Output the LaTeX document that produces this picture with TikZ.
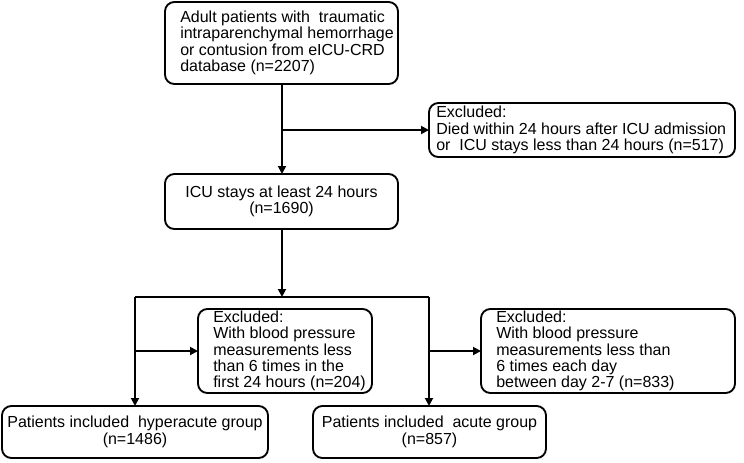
\documentclass[tikz,border=0pt]{standalone}
\usepackage{fontspec}
\setmainfont{Liberation Sans}
\usetikzlibrary{arrows.meta}
\begin{document}
\begin{tikzpicture}[x=0.75pt,y=-0.75pt,
 box/.style={draw,line width=1.4pt,rounded corners=7pt,inner sep=0pt},
 txt/.style={font=\fontsize{12}{12.3}\selectfont,inner sep=0pt},
 arr/.style={line width=1.4pt,-{Triangle[length=6pt,width=6pt]}},
 ln/.style={line width=1.4pt}]
\useasboundingbox (0,0) rectangle (744,462);
\draw[box] (165,2) rectangle (398,84);
\node[txt,align=left,anchor=west] (at) at (180,43) {Adult patients with\ \ traumatic\\intraparenchymal hemorrhage\\or contusion from eICU-CRD\\database (n=2207)};
\draw[box] (429,103) rectangle (735,157);
\node[txt,align=left,anchor=west] (e1) at (436,130) {Excluded:\\Died within 24 hours after ICU admission\\or\ \ ICU stays less than 24 hours (n=517)};
\draw[box] (165,174) rectangle (398,229);
\node[txt,align=center] (b) at (281.5,201.5) {ICU stays at least 24 hours\\(n=1690)};
\draw[box] (198,309) rectangle (372,393);
\node[txt,align=left,anchor=west] (e2) at (213,351) {Excluded:\\With blood pressure\\measurements less\\than 6 times in the\\first 24 hours (n=204)};
\draw[box] (481,309) rectangle (735,393);
\node[txt,align=left,anchor=west] (e3) at (496,351) {Excluded:\\With blood pressure\\measurements less than\\6 times each day\\between day 2-7 (n=833)};
\draw[box] (2,406) rectangle (268,458);
\node[txt,align=center] (h) at (135,432) {Patients included\ \ hyperacute group\\(n=1486)};
\draw[box] (313,406) rectangle (546,458);
\node[txt,align=center] (c) at (429.5,432) {Patients included\ \ acute group\\(n=857)};
\coordinate (t1) at (282,84); \coordinate (t2) at (282,174);
\coordinate (m1) at (282,130); \coordinate (m2) at (429,130);
\draw[arr] (t1) -- (t2);
\draw[arr] (m1) -- (m2);
\coordinate (u1) at (282,229); \coordinate (u2) at (282,297);
\draw[arr] (u1) -- (u2);
\coordinate (L) at (135,297); \coordinate (R) at (429,297);
\draw[ln] (L) -- (R);
\draw[arr] (L) -- (135,406);
\draw[arr] (R) -- (429,406);
\draw[arr] (135,351) -- (198,351);
\draw[arr] (429,351) -- (481,351);
\end{tikzpicture}
\end{document}
